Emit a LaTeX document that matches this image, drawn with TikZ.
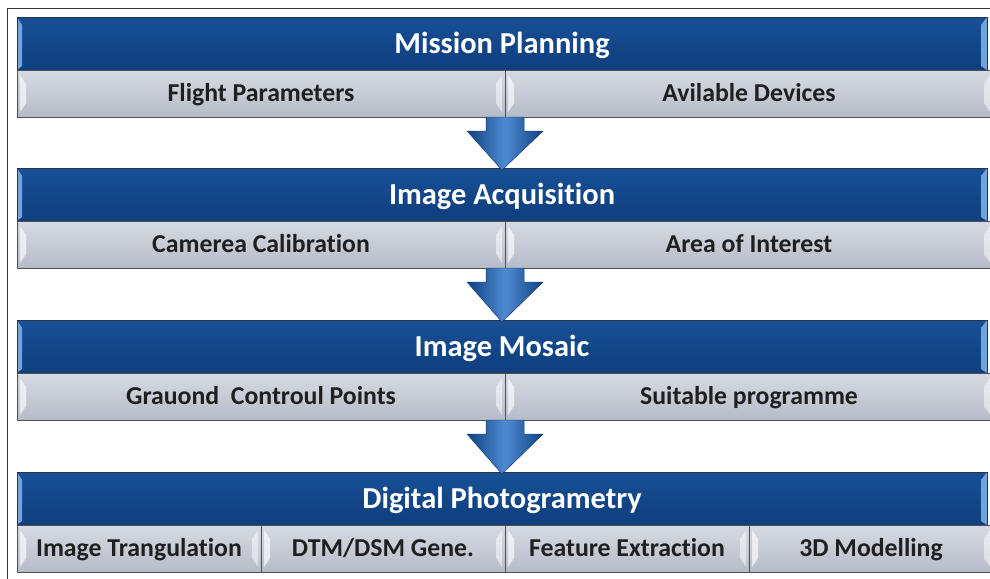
\documentclass[tikz,border=0pt]{standalone}
\usepackage{fontspec}
\setmainfont{Carlito}[Ligatures=NoCommon]
\usetikzlibrary{positioning,calc}

\definecolor{stagetop}{RGB}{24,80,150}
\definecolor{stagebot}{RGB}{14,62,124}
\definecolor{stageline}{RGB}{40,52,75}
\definecolor{stageedge}{RGB}{110,165,225}
\definecolor{tasktop}{RGB}{214,218,226}
\definecolor{taskbot}{RGB}{182,188,199}
\definecolor{taskline}{RGB}{80,80,86}
\definecolor{arrowlight}{RGB}{78,138,210}
\definecolor{arrowdark}{RGB}{18,66,130}

% blue down arrow from the split of one row to the next stage
\newcommand{\flowarrow}[2]{%
  \path[flow arrow] ($(#1)+(-19,0)$) -- ($(#1)+(19,0)$) -- ($(#1)+(19,14)$)
    -- ($(#1)+(38,14)$) -- ($(#2)+(0,2)$) -- ($(#1)+(-38,14)$)
    -- ($(#1)+(-19,14)$) -- cycle;}

\begin{document}
\begin{tikzpicture}[x=0.03cm,y=-0.03cm,
  stage/.style={draw=stageline,top color=stagetop,bottom color=stagebot,text=white,
    minimum width=29.1cm,minimum height=1.59cm,inner sep=0pt,outer sep=0pt,
    anchor=north west,text height=16.4pt,text depth=0pt,
    font=\fontsize{26}{30}\selectfont\bfseries,
    path picture={
      \fill[stageedge] (path picture bounding box.north west) -- ++(5,8)
        -- ($(path picture bounding box.south west)+(5,-4)$)
        -- (path picture bounding box.south west) -- cycle;
      \fill[stageedge] (path picture bounding box.north east) -- ++(-6,8)
        -- ($(path picture bounding box.south east)+(-6,-4)$)
        -- (path picture bounding box.south east) -- cycle;}},
  task/.style={draw=taskline,top color=tasktop,bottom color=taskbot,text=black!88,
    minimum height=1.41cm,inner sep=0pt,outer sep=0pt,
    text height=13.9pt,text depth=0pt,
    font=\fontsize{22}{26}\selectfont\bfseries,
    path picture={
      \fill[white,opacity=0.65] ($(path picture bounding box.north west)+(3,5)$) -- ++(6,9)
        -- ($(path picture bounding box.south west)+(9,-14)$)
        -- ($(path picture bounding box.south west)+(3,-5)$) -- cycle;
      \fill[white,opacity=0.5] ($(path picture bounding box.north east)+(-3,5)$) -- ++(-6,9)
        -- ($(path picture bounding box.south east)+(-9,-14)$)
        -- ($(path picture bounding box.south east)+(-3,-5)$) -- cycle;}},
  wide task/.style={task,minimum width=14.64cm},
  narrow task/.style={task,minimum width=7.32cm},
  flow arrow/.style={left color=arrowdark,right color=arrowdark,middle color=arrowlight,
    draw=arrowdark!85!black,line width=0.4pt}
]
\useasboundingbox (0,0) rectangle (990,578);
\draw[black!80,line width=0.8pt] (7,8) rectangle (1000,590);

\node [stage] at (17,17) (plan) {Mission Planning};
\node [wide task,anchor=north west] at (plan.south west) (flight) {Flight Parameters};
\node [wide task,right=0pt of flight] (devices) {Avilable Devices};
%
\node [stage] at (17,168) (acq) {Image Acquisition};
\node [wide task,anchor=north west] at (acq.south west) (calib) {Camerea Calibration};
\node [wide task,right=0pt of calib] (area) {Area of Interest};
%
\node [stage] at (17,320) (mosaic) {Image Mosaic};
\node [wide task,anchor=north west] at (mosaic.south west) (gcp) {Grauond\ \ Controul Points};
\node [wide task,right=0pt of gcp] (prog) {Suitable programme};
%
\node [stage] at (17,472) (photo) {Digital Photogrametry};
\node [narrow task,anchor=north west] at (photo.south west) (trang) {Image Trangulation};
\node [narrow task,right=0pt of trang] (dtm) {DTM/DSM Gene.};
\node [narrow task,right=0pt of dtm] (feat) {Feature Extraction};
\node [narrow task,right=0pt of feat] (model) {3D Modelling};
%
\flowarrow{flight.south east}{acq.north}
\flowarrow{calib.south east}{mosaic.north}
\flowarrow{gcp.south east}{photo.north}
\end{tikzpicture}
\end{document}
